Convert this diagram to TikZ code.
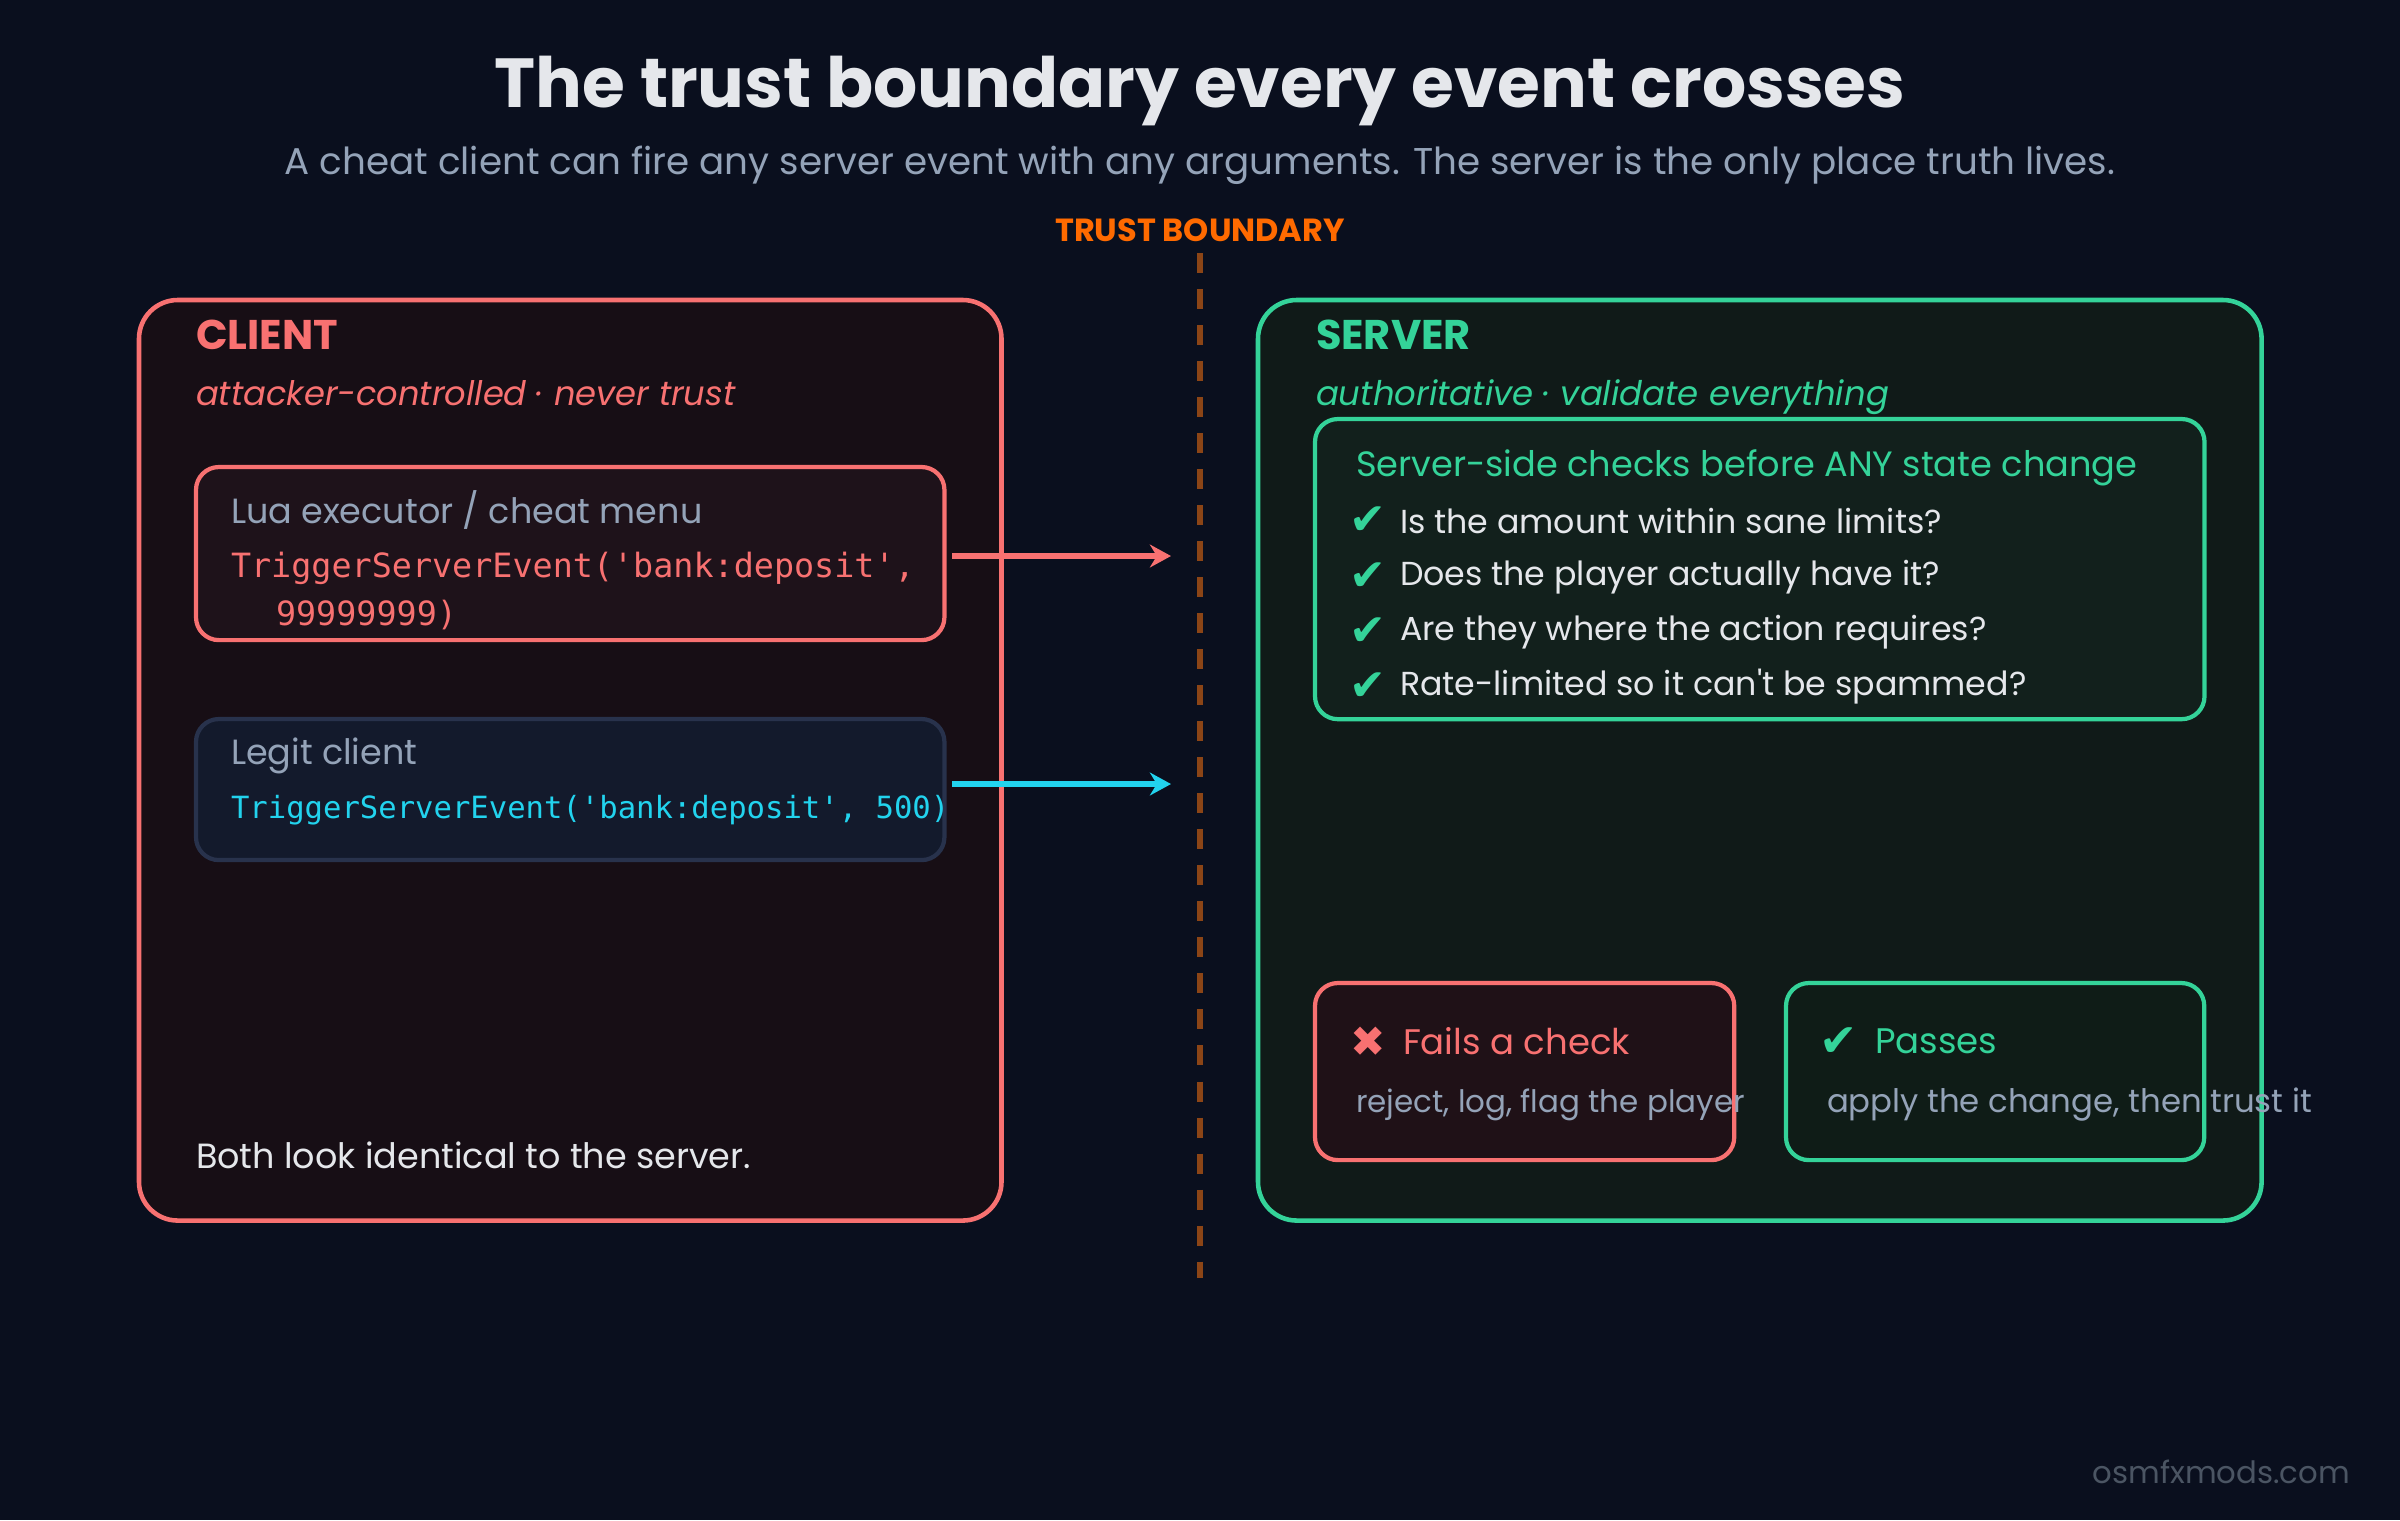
\documentclass[tikz,border=0pt]{standalone}
\usepackage{fontspec}
\setmainfont{Poppins}[Ligatures=TeXOff]
\setmonofont{DejaVu Sans Mono}
\newfontfamily\symfont{DejaVu Sans}
\usetikzlibrary{arrows.meta, positioning}
\definecolor{bgnavy}{HTML}{0A0F1E}
\definecolor{clientred}{HTML}{F87171}
\definecolor{serverteal}{HTML}{34D399}
\definecolor{legitcyan}{HTML}{22D3EE}
\definecolor{clientfill}{HTML}{170E15}
\definecolor{serverfill}{HTML}{101A18}
\definecolor{luafill}{HTML}{1E121A}
\definecolor{legitfill}{HTML}{131A2C}
\definecolor{legitedge}{HTML}{28324C}
\definecolor{checkfill}{HTML}{12201C}
\definecolor{failfill}{HTML}{1F1117}
\definecolor{passfill}{HTML}{0F1C17}
\definecolor{mutedgray}{HTML}{94A3B8}
\definecolor{brighttext}{HTML}{E5E7EB}
\definecolor{boundorange}{HTML}{FF6A00}
\definecolor{boundline}{HTML}{8C4516}
\definecolor{footgray}{HTML}{4B5563}

\begin{document}
\begin{tikzpicture}[x=0.01cm, y=-0.01cm,
  every node/.style={inner sep=0pt, outer sep=0pt},
  panel/.style={draw, rounded corners=11pt, line width=1.3pt, anchor=north west},
  card/.style={draw, rounded corners=6.5pt, line width=1.2pt, anchor=north west},
  lbl/.style={anchor=west},
  arr/.style={-{Stealth[length=6pt, width=6.5pt]}, line width=1.7pt}
]
\useasboundingbox[fill=bgnavy] (0,0) rectangle (2400,1520);

% heading
\node[font=\bfseries\fontsize{19.75}{23}\selectfont, text=brighttext] (title) at (1200,91)
  {The trust boundary every event crosses};
\node[font=\fontsize{10.6}{12}\selectfont, text=mutedgray] (subtitle) at (1200,165)
  {A cheat client can fire any server event with any arguments. The server is the only place truth lives.};
\node[font=\bfseries\fontsize{9.1}{10}\selectfont, text=boundorange] (trust) at (1200,230) {TRUST BOUNDARY};

% boundary line
\coordinate (btop) at (1200,253);
\coordinate (bbot) at (1200,1278);
\draw[boundline, line width=1.7pt, dash pattern=on 0.2cm off 0.16cm] (btop) -- (bbot);

% client side
\node[panel, draw=clientred, fill=clientfill, minimum width=8.62cm, minimum height=9.2cm] (client) at (139,300) {};
\node[lbl, font=\bfseries\fontsize{11.8}{14}\selectfont, text=clientred] (clienthead) at (196,335) {CLIENT};
\node[lbl, font=\itshape\fontsize{9.6}{12}\selectfont, text=clientred] (clientsub) at (196,393)
  {attacker-controlled · never trust};

\node[card, draw=clientred, fill=luafill, minimum width=7.48cm, minimum height=1.73cm] (lua) at (196,467) {};
\node[lbl, font=\fontsize{9.95}{12}\selectfont, text=mutedgray] (luahead) at (231,510) {Lua executor / cheat menu};
\node[lbl, font=\ttfamily\fontsize{9.5}{12}\selectfont, text=clientred] (luacode) at (231,568)
  {TriggerServerEvent('bank:deposit',};
\node[lbl, font=\ttfamily\fontsize{9.5}{12}\selectfont, text=clientred] (luacodeb) at (276,615) {99999999)};

\node[card, draw=legitedge, fill=legitfill, minimum width=7.48cm, minimum height=1.41cm] (legit) at (196,719) {};
\node[lbl, font=\fontsize{9.95}{12}\selectfont, text=mutedgray] (legithead) at (231,756) {Legit client};
\node[lbl, font=\ttfamily\fontsize{8.7}{12}\selectfont, text=legitcyan] (legitcode) at (231,810)
  {TriggerServerEvent('bank:deposit', 500)};

\node[lbl, font=\fontsize{9.95}{12}\selectfont, text=brighttext] (same) at (196,1155)
  {Both look identical to the server.};

% arrows into the boundary
\coordinate (redtip) at (1171,556);
\coordinate (cyantip) at (1171,784);
\draw[arr, clientred, shorten <=0.08cm] (lua.east |- redtip) -- (redtip);
\draw[arr, legitcyan, shorten <=0.08cm] (legit.east |- cyantip) -- (cyantip);

% server side
\node[panel, draw=serverteal, fill=serverfill, minimum width=10.03cm, minimum height=9.2cm] (server) at (1258,300) {};
\node[lbl, font=\bfseries\fontsize{11.8}{14}\selectfont, text=serverteal] (serverhead) at (1316,335) {SERVER};
\node[lbl, font=\itshape\fontsize{9.65}{12}\selectfont, text=serverteal] (serversub) at (1316,397)
  {authoritative · validate everything};

\node[card, draw=serverteal, fill=checkfill, minimum width=8.89cm, minimum height=3.0cm] (checks) at (1315,419) {};
\node[lbl, font=\fontsize{10}{12}\selectfont, text=serverteal] (checkhead) at (1356,468)
  {Server-side checks before ANY state change};
\foreach \y/\q [count=\i] in {521/Is the amount within sane limits?,
                              577/Does the player actually have it?,
                              632/Are they where the action requires?,
                              687/Rate-limited so it can't be spammed?} {
  \node[font=\symfont\fontsize{12.5}{12}\selectfont, text=serverteal] (tick\i) at (1368,\y) {✔};
  \node[lbl, font=\fontsize{9.45}{12}\selectfont, text=brighttext] (item\i) at (1400,\y) {\q};
}

\node[card, draw=clientred, fill=failfill, minimum width=4.19cm, minimum height=1.77cm] (fails) at (1315,983) {};
\node[font=\symfont\fontsize{12}{12}\selectfont, text=clientred] (cross) at (1368,1042) {✖};
\node[lbl, font=\fontsize{10.1}{12}\selectfont, text=clientred] (failhead) at (1403,1041) {Fails a check};
\node[lbl, font=\fontsize{8.8}{12}\selectfont, text=mutedgray] (failtext) at (1356,1105) {reject, log, flag the player};

\node[card, draw=serverteal, fill=passfill, minimum width=4.18cm, minimum height=1.77cm] (passes) at (1786,983) {};
\node[font=\symfont\fontsize{13}{12}\selectfont, text=serverteal] (passtick) at (1839,1042) {✔};
\node[lbl, font=\fontsize{10.1}{12}\selectfont, text=serverteal] (passhead) at (1875,1041) {Passes};
\node[lbl, font=\fontsize{9.2}{12}\selectfont, text=mutedgray] (passtext) at (1827,1105) {apply the change, then trust it};

% footer
\node[anchor=east, font=\fontsize{8.75}{10}\selectfont, text=footgray] (foot) at (2350,1472) {osmfxmods.com};
\end{tikzpicture}
\end{document}
